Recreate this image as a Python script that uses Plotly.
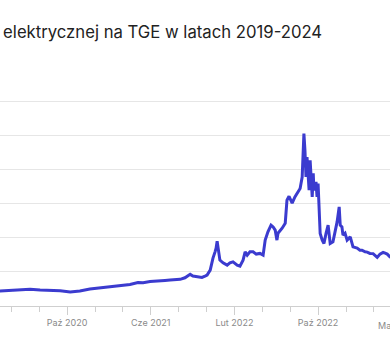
import plotly.graph_objects as go

# Daily-index price of electricity on TGE (PLN/MWh), sampled dates
dates = [
    "2019-01-15", "2019-04-15", "2019-07-15", "2019-10-15", "2020-01-15",
    "2020-03-01",
    "2020-04-04", "2020-05-03", "2020-06-01", "2020-06-30", "2020-07-29",
    "2020-08-27", "2020-09-25", "2020-10-24", "2020-11-21", "2020-12-20",
    "2021-01-18", "2021-02-16", "2021-03-17", "2021-04-15", "2021-05-08",
    "2021-05-23", "2021-06-12", "2021-07-02", "2021-07-25", "2021-08-09",
    "2021-08-23", "2021-09-07", "2021-09-21", "2021-09-30", "2021-10-06",
    "2021-10-14", "2021-10-26", "2021-11-09", "2021-11-18", "2021-11-24",
    "2021-12-03", "2021-12-08", "2021-12-11", "2021-12-17", "2021-12-20",
    "2021-12-23", "2021-12-26", "2021-12-29", "2021-12-31", "2022-01-09",
    "2022-01-21", "2022-01-29", "2022-02-07", "2022-02-19", "2022-02-27",
    "2022-03-08", "2022-03-14", "2022-03-20", "2022-03-28", "2022-04-06",
    "2022-04-15", "2022-04-26", "2022-05-05", "2022-05-11", "2022-05-19",
    "2022-05-28", "2022-06-03", "2022-06-09", "2022-06-14", "2022-06-17",
    "2022-06-29", "2022-07-08", "2022-07-13", "2022-07-19", "2022-07-28",
    "2022-08-05", "2022-08-14", "2022-08-20", "2022-08-26", "2022-08-29",
    "2022-08-31", "2022-09-03", "2022-09-06", "2022-09-09", "2022-09-15",
    "2022-09-18", "2022-09-24", "2022-09-27", "2022-09-29", "2022-10-05",
    "2022-10-08", "2022-10-11", "2022-10-14", "2022-10-17", "2022-10-23",
    "2022-10-28", "2022-11-03", "2022-11-09", "2022-11-15", "2022-11-23",
    "2022-11-29", "2022-12-05", "2022-12-11", "2022-12-14", "2022-12-19",
    "2022-12-22", "2022-12-28", "2023-01-03", "2023-01-12", "2023-01-17",
    "2023-01-20", "2023-02-01", "2023-02-09", "2023-02-15", "2023-02-24",
    "2023-03-02", "2023-03-10", "2023-03-19", "2023-03-25", "2023-03-31",
    "2023-04-08", "2023-04-17", "2023-04-23", "2023-04-29", "2023-05-07",
    "2023-05-20", "2023-06-15", "2023-08-15", "2023-10-15", "2023-12-15",
    "2024-03-15", "2024-06-15", "2024-09-15", "2024-12-15",
]
prices = [
    235, 245, 240, 230, 215,
    200,
    219, 227, 234, 244, 234,
    227, 224, 205, 219, 249,
    263, 282, 300, 315, 344,
    341, 358, 370, 373, 380,
    388, 391, 414, 439, 464,
    439, 429, 420, 439, 454,
    527, 644, 702, 794, 849,
    951, 849, 775, 673, 633,
    600, 633, 648, 600, 585,
    673, 794, 746, 794, 794,
    761, 771, 746, 966, 1087,
    1185, 1160, 1112, 966, 1068,
    1141, 1214, 1551, 1609, 1507,
    1599, 1672, 1722, 1892, 2184,
    2527, 2282, 1892, 2184, 1697,
    2136, 1599, 1946, 1697, 1819,
    1599, 1795, 1404, 1064, 966,
    917, 1064, 1185, 917, 941,
    1087, 1233, 1453, 1185, 1160,
    1039, 1068, 966, 1014, 922,
    868, 849, 819, 819, 794,
    790, 771, 768, 746, 712,
    761, 786, 775, 761, 721,
    700, 560, 540, 560, 480,
    420, 450, 470, 480,
]

# x-axis ticks: labelled major ticks and unlabelled minor ticks between them
major_ticks = ["2020-10-15", "2021-06-14", "2022-02-11", "2022-10-11"]
major_labels = ["Paź 2020", "Cze 2021", "Lut 2022", "Paź 2022"]
minor_ticks = [
    "2020-05-07", "2020-07-26", "2021-01-04", "2021-03-25", "2021-09-03",
    "2021-11-22", "2022-05-03", "2022-07-22", "2022-12-31", "2023-03-21",
]
next_label = "Maj 2023"

title_text = "elektrycznej na TGE w latach 2019-2024"

LINE = "#3b3bcf"
GRID = "#e6e6e6"
AXIS = "#cfcfcf"
FONT = "Inter"

fig = go.Figure()
fig.add_trace(go.Scatter(
    x=dates, y=prices, mode="lines",
    line=dict(color=LINE, width=3),
    hoverinfo="skip", showlegend=False,
))

fig.update_layout(
    width=390, height=350,
    margin=dict(l=0, r=0, t=98, b=44),
    paper_bgcolor="white", plot_bgcolor="white",
    font=dict(family=FONT),
    title=dict(
        text=title_text, x=0.008, xanchor="left", xref="container",
        y=1 - 32 / 350, yanchor="middle", yref="container",
        font=dict(family=FONT, size=16.7, color="#222222"),
    ),
    xaxis=dict(
        type="date", range=["2020-04-04", "2023-05-07"],
        tickmode="array", tickvals=major_ticks, ticktext=major_labels,
        ticks="outside", ticklen=8, tickwidth=1, tickcolor=AXIS,
        tickfont=dict(family=FONT, size=9, color="#8a8a8a"),
        showline=True, linecolor=AXIS, linewidth=1,
        showgrid=False, zeroline=False,
        minor=dict(tickmode="array", tickvals=minor_ticks, ticks="outside",
                   ticklen=5, tickwidth=1, tickcolor=AXIS, showgrid=False),
    ),
    yaxis=dict(
        range=[0, 3050], dtick=500, tick0=0,
        showticklabels=False, ticks="",
        showgrid=True, gridcolor=GRID, gridwidth=1,
        zeroline=False, showline=False,
    ),
    annotations=[dict(
        text=next_label, xref="paper", yref="paper",
        x=398 / 390, y=0, xanchor="center", yanchor="top", yshift=-12,
        showarrow=False, font=dict(family=FONT, size=9, color="#8a8a8a"),
    )],
)

fig.write_html("out.html")
